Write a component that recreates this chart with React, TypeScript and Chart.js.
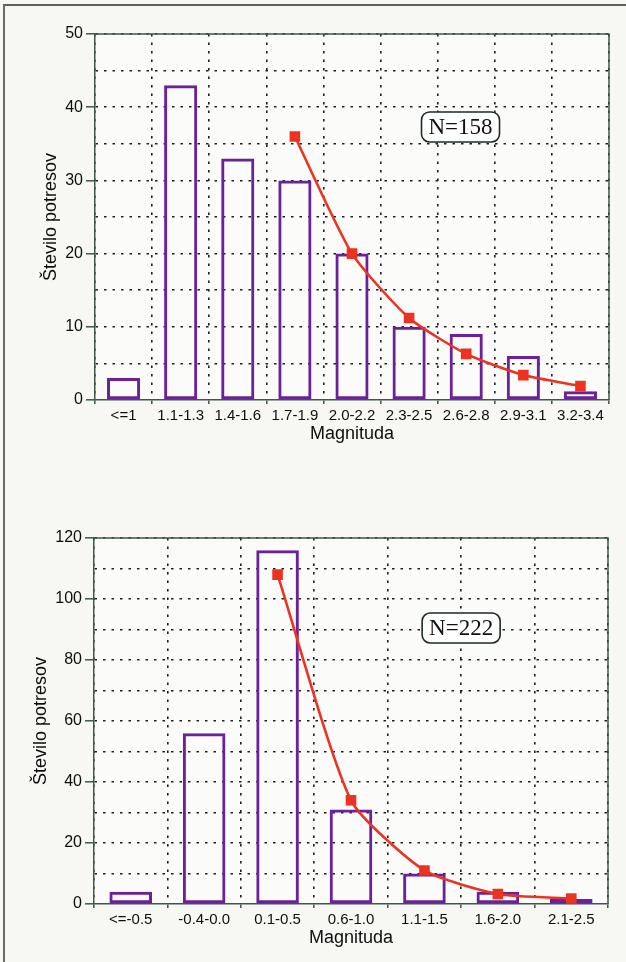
import React, { useEffect, useRef } from 'react';
import { Chart, registerables } from 'chart.js';

Chart.register(...registerables);

// ---------- data ----------
const topCategories = ['<=1', '1.1-1.3', '1.4-1.6', '1.7-1.9', '2.0-2.2', '2.3-2.5', '2.6-2.8', '2.9-3.1', '3.2-3.4'];
const topCounts = [3, 43, 33, 30, 20, 10, 9, 6, 1.2];
const topFit = [null, null, null, 36, 20, 11.2, 6.3, 3.4, 1.9];
const topYMax = 50;
const topYStep = 5;
const topYLabelEvery = 10;
const topNLabel = 'N=158';

const bottomCategories = ['<=-0.5', '-0.4-0.0', '0.1-0.5', '0.6-1.0', '1.1-1.5', '1.6-2.0', '2.1-2.5'];
const bottomCounts = [4, 56, 116, 31, 10, 4, 1.6];
const bottomFit = [null, null, 108, 34, 11, 3.3, 1.8];
const bottomYMax = 120;
const bottomYStep = 10;
const bottomYLabelEvery = 20;
const bottomNLabel = 'N=222';

const yTitle = 'Število potresov';
const xTitle = 'Magnituda';

// ---------- styles ----------
const SANS = "'Liberation Sans', Arial, Helvetica, sans-serif";
const SERIF = "'Liberation Serif', 'Times New Roman', serif";
const AXIS = '#3d574e';
const GRID = '#1e1e1e';
const TEXT = '#0e0e0e';
const PURPLE = '#6a2199';
const RED = '#ec3322';
const PAGE_BG = '#f7f7f4';
const PLOT_BG = '#fbfbf9';

const decorPlugin = {
  id: 'decor',
  beforeDraw(chart: any) {
    const { ctx, chartArea: a } = chart;
    ctx.save();
    ctx.fillStyle = PLOT_BG;
    ctx.fillRect(a.left, a.top, a.right - a.left, a.bottom - a.top);
    ctx.restore();
  },
  afterDatasetsDraw(chart: any, _a: any, opts: any) {
    const { ctx, chartArea: a } = chart;
    ctx.save();
    ctx.strokeStyle = AXIS;
    ctx.lineWidth = 1.5;
    ctx.beginPath();
    ctx.moveTo(a.left, a.top);
    ctx.lineTo(a.right, a.top);
    ctx.lineTo(a.right, a.bottom);
    ctx.stroke();

    // N label box
    const cx = chart.scales.x.getPixelForValue(opts.boxX);
    const cy = chart.scales.y.getPixelForValue(opts.boxY);
    const w = 78;
    const h = 30;
    const r = 8;
    const x0 = cx - w / 2;
    const y0 = cy - h / 2;
    ctx.beginPath();
    ctx.moveTo(x0 + r, y0);
    ctx.lineTo(x0 + w - r, y0);
    ctx.arcTo(x0 + w, y0, x0 + w, y0 + r, r);
    ctx.lineTo(x0 + w, y0 + h - r);
    ctx.arcTo(x0 + w, y0 + h, x0 + w - r, y0 + h, r);
    ctx.lineTo(x0 + r, y0 + h);
    ctx.arcTo(x0, y0 + h, x0, y0 + h - r, r);
    ctx.lineTo(x0, y0 + r);
    ctx.arcTo(x0, y0, x0 + r, y0, r);
    ctx.closePath();
    ctx.fillStyle = '#ffffff';
    ctx.fill();
    ctx.strokeStyle = '#1e2a24';
    ctx.lineWidth = 1.6;
    ctx.stroke();
    ctx.fillStyle = '#111';
    ctx.font = `23px ${SERIF}`;
    ctx.textAlign = 'center';
    ctx.textBaseline = 'middle';
    ctx.fillText(opts.text, cx, cy + 1);
    ctx.restore();
  },
};

type PanelProps = {
  categories: string[];
  counts: number[];
  fit: (number | null)[];
  yMax: number;
  yStep: number;
  labelEvery: number;
  nLabel: string;
  boxX: number;
  boxY: number;
  height: number;
  top: number;
  padTop: number;
  padRight: number;
  padBottom: number;
  yAxisWidth: number;
  yTitlePad: number;
};

function Panel(p: PanelProps) {
  const ref = useRef<HTMLCanvasElement | null>(null);
  useEffect(() => {
    if (!ref.current) return;
    const chart = new Chart(ref.current, {
      type: 'bar',
      data: {
        labels: p.categories,
        datasets: [
          {
            type: 'line',
            data: p.fit as any,
            borderColor: RED,
            borderWidth: 2.6,
            backgroundColor: RED,
            pointStyle: 'rect',
            pointRadius: 7.5,
            pointBackgroundColor: RED,
            pointBorderColor: RED,
            pointBorderWidth: 0,
            tension: 0.2,
            fill: false,
            order: 0,
          } as any,
          {
            type: 'bar',
            data: p.counts,
            backgroundColor: 'rgba(0,0,0,0)',
            borderColor: PURPLE,
            borderWidth: 3,
            borderSkipped: false,
            barPercentage: 0.58,
            categoryPercentage: 1,
            order: 1,
          } as any,
        ],
      },
      options: {
        animation: false,
        responsive: false,
        maintainAspectRatio: false,
        events: [],
        layout: { padding: { top: p.padTop, right: p.padRight, bottom: p.padBottom, left: 0 } },
        plugins: {
          legend: { display: false },
          tooltip: { enabled: false },
          decor: { boxX: p.boxX, boxY: p.boxY, text: p.nLabel },
        } as any,
        scales: {
          x: {
            type: 'category',
            offset: true,
            grid: {
              offset: true,
              color: GRID,
              lineWidth: 1.6,
              drawTicks: true,
              tickLength: 4,
              tickColor: AXIS,
              tickWidth: 1.5,
              tickBorderDash: [],
            } as any,
            border: { display: true, color: AXIS, width: 1.5, dash: [2.5, 6] },
            ticks: {
              color: TEXT,
              font: { family: SANS, size: 15 },
              padding: 3,
              autoSkip: false,
              maxRotation: 0,
            },
            title: {
              display: true,
              text: xTitle,
              color: TEXT,
              font: { family: SANS, size: 18 },
              padding: { top: 0, bottom: 1 },
            },
            afterFit: (s: any) => {
              s.height = 46;
            },
          },
          y: {
            min: 0,
            max: p.yMax,
            grid: {
              color: (ctx: any) => (ctx.tick && ctx.tick.value === 0 ? 'rgba(0,0,0,0)' : GRID),
              lineWidth: 1.6,
              drawTicks: true,
              tickLength: 9,
              tickColor: (ctx: any) =>
                ctx.tick && ctx.tick.value % p.labelEvery === 0 ? AXIS : 'rgba(0,0,0,0)',
              tickWidth: 1.5,
              tickBorderDash: [],
            } as any,
            border: { display: true, color: AXIS, width: 1.5, dash: [2.5, 6] },
            ticks: {
              stepSize: p.yStep,
              color: TEXT,
              font: { family: SANS, size: 16 },
              padding: 3,
              callback: (v: any) => (Number(v) % p.labelEvery === 0 ? String(v) : ''),
            },
            title: {
              display: true,
              text: yTitle,
              color: TEXT,
              font: { family: SANS, size: 18 },
              padding: { top: p.yTitlePad, bottom: 0 },
            },
            afterFit: (s: any) => {
              s.width = p.yAxisWidth;
            },
          },
        },
      },
      plugins: [decorPlugin as any],
    });
    return () => chart.destroy();
  }, []);
  return (
    <canvas
      ref={ref}
      width={626}
      height={p.height}
      style={{ position: 'absolute', left: 0, top: p.top, width: 626, height: p.height }}
    />
  );
}

export default function App() {
  return (
    <div
      style={{
        position: 'absolute',
        left: 0,
        top: 0,
        width: 626,
        height: 962,
        background: PAGE_BG,
        overflow: 'hidden',
      }}
    >
      <div
        style={{
          position: 'absolute',
          left: 3,
          top: 4,
          right: -4,
          bottom: -4,
          borderTop: '2px solid #5e605d',
          borderLeft: '2px solid #6a6c69',
        }}
      />
      <Panel
        categories={topCategories}
        counts={topCounts}
        fit={topFit}
        yMax={topYMax}
        yStep={topYStep}
        labelEvery={topYLabelEvery}
        nLabel={topNLabel}
        boxX={5.9}
        boxY={37.3}
        height={470}
        top={0}
        padTop={34}
        padRight={17}
        padBottom={24}
        yAxisWidth={95}
        yTitlePad={40}
      />
      <Panel
        categories={bottomCategories}
        counts={bottomCounts}
        fit={bottomFit}
        yMax={bottomYMax}
        yStep={bottomYStep}
        labelEvery={bottomYLabelEvery}
        nLabel={bottomNLabel}
        boxX={4.5}
        boxY={90.5}
        height={492}
        top={470}
        padTop={68}
        padRight={18}
        padBottom={12}
        yAxisWidth={94}
        yTitlePad={30}
      />
    </div>
  );
}
